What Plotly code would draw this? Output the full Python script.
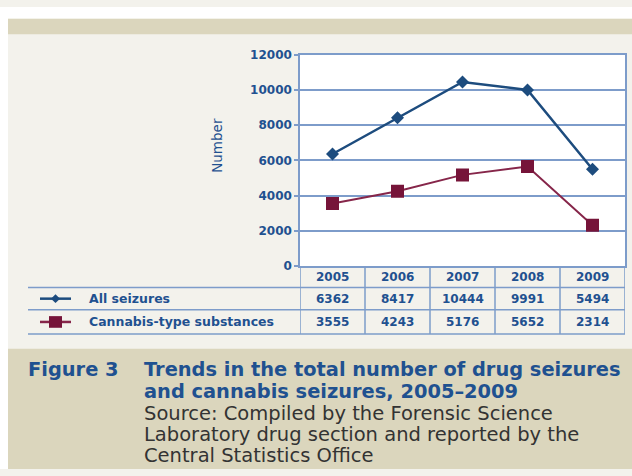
import plotly.graph_objects as go

# ---- data ----
years = ["2005", "2006", "2007", "2008", "2009"]
all_seizures = [6362, 8417, 10444, 9991, 5494]
cannabis = [3555, 4243, 5176, 5652, 2314]
series_names = ["All seizures", "Cannabis-type substances"]
y_ticks = [0, 2000, 4000, 6000, 8000, 10000, 12000]

caption_label = "Figure 3"
caption_title = ["Trends in the total number of drug seizures",
                 "and cannabis seizures, 2005\u20132009"]
caption_source = ["Source: Compiled by the Forensic Science",
                  "Laboratory drug section and reported by the",
                  "Central Statistics Office"]

# ---- styling ----
W, H = 632, 476
BAND = "#dbd6bd"
PANEL = "#f3f2ec"
GRID = "#7d9cca"
TXT = "#1f5190"
BLUE = "#1d4c7e"
MAROON = "#761439"
MAROON_LINE = "#86264a"


def fx(px):
    return px / W


def fy(py):
    return 1 - py / H


xpos = list(range(len(years)))

fig = go.Figure()
fig.add_trace(go.Scatter(
    x=xpos, y=all_seizures, mode="lines+markers", name=series_names[0],
    line=dict(color=BLUE, width=2.5),
    marker=dict(symbol="diamond", size=10, color=BLUE),
))
fig.add_trace(go.Scatter(
    x=xpos, y=cannabis, mode="lines+markers", name=series_names[1],
    line=dict(color=MAROON_LINE, width=2),
    marker=dict(symbol="square", size=13, color=MAROON),
))

shapes = []
# white margins around the panel, beige bands top and bottom
shapes.append(dict(type="rect", xref="paper", yref="paper", x0=0, x1=fx(8),
                   y0=0, y1=1, fillcolor="white", line_width=0, layer="below"))
shapes.append(dict(type="rect", xref="paper", yref="paper", x0=0, x1=1,
                   y0=fy(12), y1=1, fillcolor="white", line_width=0, layer="below"))
shapes.append(dict(type="rect", xref="paper", yref="paper", x0=fx(8), x1=1,
                   y0=fy(28), y1=fy(12), fillcolor=BAND, line_width=0, layer="below"))
shapes.append(dict(type="rect", xref="paper", yref="paper", x0=fx(8), x1=1,
                   y0=0, y1=fy(352), fillcolor=BAND, line_width=0, layer="below"))
# white plotting area
shapes.append(dict(type="rect", xref="x domain", yref="y domain", x0=0, x1=1,
                   y0=0, y1=1, fillcolor="white", line_width=0, layer="below"))

# data table grid under the plot
row_lines = [289, 312, 337]
for ry in row_lines:
    shapes.append(dict(type="line", xref="paper", yref="paper", x0=fx(28), x1=fx(625),
                       y0=fy(ry), y1=fy(ry), line=dict(color=GRID, width=1.5)))
for i in range(len(years) + 1):
    shapes.append(dict(type="line", xref="x", yref="paper", x0=i - 0.5, x1=i - 0.5,
                       y0=fy(337), y1=fy(267), line=dict(color=GRID, width=1.5)))

# legend keys inside the table
key_rows = [300.5, 324.5]
shapes.append(dict(type="line", xref="paper", yref="paper", x0=fx(40), x1=fx(71),
                   y0=fy(key_rows[0]), y1=fy(key_rows[0]), line=dict(color=BLUE, width=2.5)))
shapes.append(dict(type="path", xref="paper", yref="paper",
                   path="M {:.5f} {:.5f} L {:.5f} {:.5f} L {:.5f} {:.5f} L {:.5f} {:.5f} Z".format(
                       fx(51), fy(key_rows[0]), fx(55.5), fy(key_rows[0] - 4.5),
                       fx(60), fy(key_rows[0]), fx(55.5), fy(key_rows[0] + 4.5)),
                   fillcolor=BLUE, line_width=0))
shapes.append(dict(type="line", xref="paper", yref="paper", x0=fx(40), x1=fx(71),
                   y0=fy(key_rows[1]), y1=fy(key_rows[1]), line=dict(color=MAROON_LINE, width=2.5)))
shapes.append(dict(type="rect", xref="paper", yref="paper", x0=fx(49), x1=fx(62),
                   y0=fy(key_rows[1] + 6), y1=fy(key_rows[1] - 6),
                   fillcolor=MAROON, line_width=0))

annotations = []
tbl_font = dict(family="DejaVu Sans", size=12, color=TXT, weight="bold")
lbl_font = dict(family="DejaVu Sans", size=12.5, color=TXT, weight="bold")
for i, yr in enumerate(years):
    annotations.append(dict(x=i, y=fy(278), xref="x", yref="paper", text=yr,
                            showarrow=False, font=tbl_font, xanchor="center", yanchor="middle"))
    annotations.append(dict(x=i, y=fy(key_rows[0]), xref="x", yref="paper", text=str(all_seizures[i]),
                            showarrow=False, font=tbl_font, xanchor="center", yanchor="middle"))
    annotations.append(dict(x=i, y=fy(key_rows[1]), xref="x", yref="paper", text=str(cannabis[i]),
                            showarrow=False, font=tbl_font, xanchor="center", yanchor="middle"))
for name, ry in zip(series_names, key_rows):
    annotations.append(dict(x=fx(87), y=fy(ry), xref="paper", yref="paper", text=name,
                            showarrow=False, font=lbl_font, xanchor="left", yanchor="middle"))

# y-axis title
annotations.append(dict(x=fx(217), y=fy(143), xref="paper", yref="paper", text="Number",
                        textangle=-90, showarrow=False,
                        font=dict(family="DejaVu Sans", size=13.5, color=TXT),
                        xanchor="center", yanchor="middle"))

# caption block
cap_lines_y = [373, 396, 418.5, 440.5, 462.5]
cap_bold = dict(family="DejaVu Sans", size=19.4, color=TXT, weight="bold")
cap_reg = dict(family="DejaVu Sans", size=19.5, color="#333333")
annotations.append(dict(x=fx(26), y=fy(cap_lines_y[0]), xref="paper", yref="paper",
                        text=caption_label, showarrow=False, font=cap_bold,
                        xanchor="left", yanchor="middle"))
for txt, ly in zip(caption_title, cap_lines_y[:2]):
    annotations.append(dict(x=fx(142), y=fy(ly), xref="paper", yref="paper", text=txt,
                            showarrow=False, font=cap_bold, xanchor="left", yanchor="middle"))
for txt, ly in zip(caption_source, cap_lines_y[2:]):
    annotations.append(dict(x=fx(142), y=fy(ly), xref="paper", yref="paper", text=txt,
                            showarrow=False, font=cap_reg, xanchor="left", yanchor="middle"))

fig.update_layout(
    width=W, height=H,
    margin=dict(l=0, r=0, t=0, b=0),
    paper_bgcolor=PANEL,
    plot_bgcolor="white",
    showlegend=False,
    shapes=shapes,
    annotations=annotations,
    xaxis=dict(
        domain=[fx(300), fx(625)], range=[-0.5, len(years) - 0.5],
        showticklabels=False, showgrid=False, zeroline=False,
        showline=True, linecolor=GRID, linewidth=1.5, mirror=True, ticks="",
    ),
    yaxis=dict(
        domain=[fy(267), fy(49)], range=[0, 12000],
        tickvals=y_ticks, ticktext=[str(v) for v in y_ticks],
        showgrid=True, gridcolor=GRID, gridwidth=1.5, zeroline=False,
        showline=True, linecolor=GRID, linewidth=1.5, mirror=True,
        ticks="outside", ticklen=4, tickcolor=GRID, tickwidth=1.5,
        tickfont=dict(family="DejaVu Sans", size=12, color=TXT, weight="bold"),
    ),
)

fig.write_html("out.html")
